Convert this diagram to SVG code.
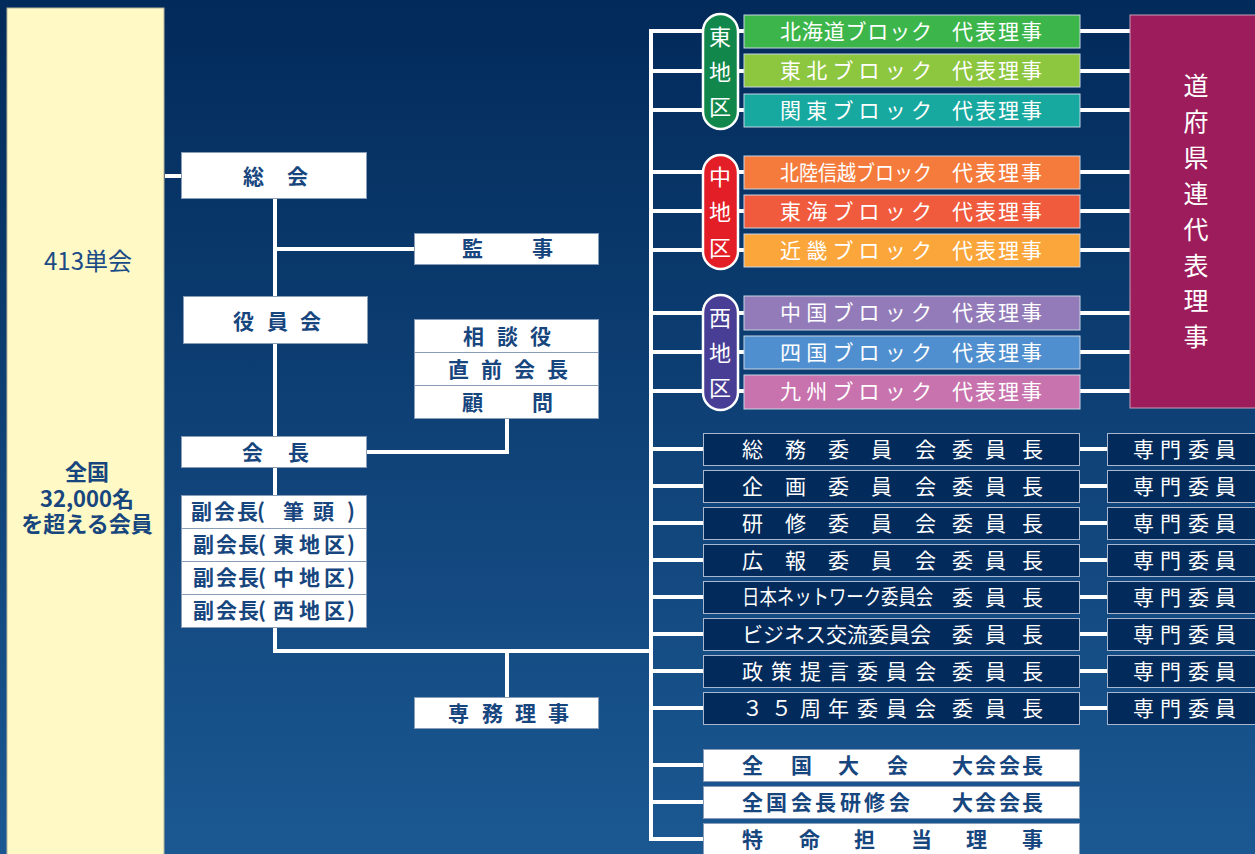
<svg xmlns="http://www.w3.org/2000/svg" width="1255" height="854" viewBox="0 0 1255 854">
<defs>
<linearGradient id="bg" x1="0" y1="0" x2="0" y2="1">
<stop offset="0" stop-color="#022a5a"/>
<stop offset="1" stop-color="#1b5892"/>
</linearGradient>
<style>
text{font-family:"Noto Sans CJK JP","Noto Sans",sans-serif;font-size:21px;dominant-baseline:central;transform:translateY(-2px)}
.wb{fill:#ffffff;stroke:#8a9db8;stroke-width:1}
.dt{fill:#17467e;font-weight:bold}
.lt{fill:#ffffff}
.pt{fill:#ffffff;font-size:22px}
.cm{fill:#022b5c;stroke:#a9b8cf;stroke-width:1}
.blk{stroke:#c8d4e4;stroke-width:1}
.pill{stroke:#ffffff;stroke-width:2.5}
.con{fill:none;stroke:#ffffff;stroke-width:4}
</style>
</defs>
<rect width="1255" height="854" fill="url(#bg)"/>

<g id="connectors" class="con">
<path d="M165 176H182"/>
<path d="M275 199V296"/>
<path d="M275 249H414"/>
<path d="M275 344V436"/>
<path d="M367 452H507V418"/>
<path d="M275 468V495"/>
<path d="M275 628V651H651"/>
<path d="M507 651V697"/>
<path d="M651 29V841"/>
<path d="M649 31H703M649 71H703M649 110H703M649 172H703M649 211H703M649 250H703M649 313H703M649 352H703M649 391H703"/>
<path d="M737 31H744M737 71H744M737 110H744M737 172H744M737 211H744M737 250H744M737 313H744M737 352H744M737 391H744"/>
<path d="M1080 31H1130M1080 71H1130M1080 110H1130M1080 172H1130M1080 211H1130M1080 250H1130M1080 313H1130M1080 352H1130M1080 391H1130"/>
<path d="M651 449H703M651 486H703M651 523H703M651 560H703M651 597H703M651 634H703M651 671H703M651 708H703M651 765H703M651 802H703M651 839H703"/>
<path d="M1080 449H1107M1080 486H1107M1080 523H1107M1080 560H1107M1080 597H1107M1080 634H1107M1080 671H1107M1080 708H1107"/>
</g>

<g id="members">
<rect x="7" y="8" width="157" height="860" fill="#fff9c6" stroke="#b7b59a" stroke-width="1"/>
<text x="88" y="261" text-anchor="middle" fill="#1b4b86" style="font-size:24px">413単会</text>
<text class="dt" text-anchor="middle" style="font-size:22px;font-weight:600"><tspan x="87" y="472">全国</tspan><tspan x="87" y="499">32,000名</tspan><tspan x="87" y="524">を超える会員</tspan></text>
</g>

<g id="soukai"><rect class="wb" x="181.5" y="152.5" width="185" height="46"/><text class="dt" x="243 287" y="177">総会</text></g>
<g id="kanji"><rect class="wb" x="414.5" y="233.5" width="184" height="31"/><text class="dt" x="462 532" y="249">監事</text></g>
<g id="yakuinkai"><rect class="wb" x="183.5" y="296.5" width="184" height="47"/><text class="dt" x="233 267 300" y="322">役員会</text></g>
<g id="advisors">
<rect class="wb" x="414.5" y="319.5" width="184" height="33"/><text class="dt" x="463 497 530" y="337">相談役</text>
<rect class="wb" x="414.5" y="352.5" width="184" height="33"/><text class="dt" x="448 481 514 547" y="370">直前会長</text>
<rect class="wb" x="414.5" y="385.5" width="184" height="33"/><text class="dt" x="462 532" y="403">顧問</text>
</g>
<g id="kaichou"><rect class="wb" x="181.5" y="436.5" width="185" height="31"/><text class="dt" x="242 288" y="453">会長</text></g>
<g id="fukukaichou">
<rect class="wb" x="181.5" y="495.5" width="185" height="33"/><text class="dt" x="191 214 237 257 283 313 347" y="512">副会長(筆頭)</text>
<rect class="wb" x="181.5" y="528.5" width="185" height="33"/><text class="dt" x="193 216 238 258 273 299 324 347" y="545">副会長(東地区)</text>
<rect class="wb" x="181.5" y="561.5" width="185" height="33"/><text class="dt" x="193 216 238 258 273 299 324 347" y="578">副会長(中地区)</text>
<rect class="wb" x="181.5" y="594.5" width="185" height="33"/><text class="dt" x="193 216 238 258 273 299 324 347" y="611">副会長(西地区)</text>
</g>
<g id="senmu"><rect class="wb" x="414.5" y="697.5" width="184" height="31"/><text class="dt" x="448 482 515 548" y="714">専務理事</text></g>

<g id="east">
<rect class="pill" x="703" y="14" width="35" height="115" rx="17.5" fill="#12874b"/>
<text class="pt" x="720" y="37" text-anchor="middle">東</text><text class="pt" x="720" y="72" text-anchor="middle">地</text><text class="pt" x="720" y="107" text-anchor="middle">区</text>
<rect class="blk" x="744" y="15" width="336" height="33" fill="#3cb64a"/><text class="lt" x="780" y="31.5" textLength="152" lengthAdjust="spacing">北海道ブロック</text><text class="lt" x="952" y="31.5" textLength="90" lengthAdjust="spacing">代表理事</text>
<rect class="blk" x="744" y="54" width="336" height="33" fill="#8dc63f"/><text class="lt" x="780" y="70.5" textLength="152" lengthAdjust="spacing">東北ブロック</text><text class="lt" x="952" y="70.5" textLength="90" lengthAdjust="spacing">代表理事</text>
<rect class="blk" x="744" y="94" width="336" height="33" fill="#17a99f"/><text class="lt" x="780" y="110.5" textLength="152" lengthAdjust="spacing">関東ブロック</text><text class="lt" x="952" y="110.5" textLength="90" lengthAdjust="spacing">代表理事</text>
</g>
<g id="central">
<rect class="pill" x="703" y="155" width="35" height="114" rx="17.5" fill="#e31e27"/>
<text class="pt" x="720" y="177" text-anchor="middle">中</text><text class="pt" x="720" y="212" text-anchor="middle">地</text><text class="pt" x="720" y="248" text-anchor="middle">区</text>
<rect class="blk" x="744" y="156" width="336" height="33" fill="#f47b3b"/><text class="lt" x="780" y="172.5" textLength="152" lengthAdjust="spacingAndGlyphs">北陸信越ブロック</text><text class="lt" x="952" y="172.5" textLength="90" lengthAdjust="spacing">代表理事</text>
<rect class="blk" x="744" y="195" width="336" height="33" fill="#f05a3d"/><text class="lt" x="780" y="211.5" textLength="152" lengthAdjust="spacing">東海ブロック</text><text class="lt" x="952" y="211.5" textLength="90" lengthAdjust="spacing">代表理事</text>
<rect class="blk" x="744" y="234" width="336" height="33" fill="#faa63a"/><text class="lt" x="780" y="250.5" textLength="152" lengthAdjust="spacing">近畿ブロック</text><text class="lt" x="952" y="250.5" textLength="90" lengthAdjust="spacing">代表理事</text>
</g>
<g id="west">
<rect class="pill" x="703" y="295" width="35" height="115" rx="17.5" fill="#483e95"/>
<text class="pt" x="720" y="318" text-anchor="middle">西</text><text class="pt" x="720" y="353" text-anchor="middle">地</text><text class="pt" x="720" y="388" text-anchor="middle">区</text>
<rect class="blk" x="744" y="296" width="336" height="34" fill="#927bb8"/><text class="lt" x="780" y="313" textLength="152" lengthAdjust="spacing">中国ブロック</text><text class="lt" x="952" y="313" textLength="90" lengthAdjust="spacing">代表理事</text>
<rect class="blk" x="744" y="336" width="336" height="33" fill="#4f8fcf"/><text class="lt" x="780" y="352.5" textLength="152" lengthAdjust="spacing">四国ブロック</text><text class="lt" x="952" y="352.5" textLength="90" lengthAdjust="spacing">代表理事</text>
<rect class="blk" x="744" y="375" width="336" height="34" fill="#c873ad"/><text class="lt" x="780" y="392" textLength="152" lengthAdjust="spacing">九州ブロック</text><text class="lt" x="952" y="392" textLength="90" lengthAdjust="spacing">代表理事</text>
</g>
<g id="prefecture">
<rect x="1130" y="15" width="130" height="393" fill="#9d1c5b" stroke="#c8a0b8" stroke-width="1"/>
<text class="lt" text-anchor="middle" style="font-size:25px"><tspan x="1196" y="86">道</tspan><tspan x="1196" y="122">府</tspan><tspan x="1196" y="158">県</tspan><tspan x="1196" y="194">連</tspan><tspan x="1196" y="230">代</tspan><tspan x="1196" y="266">表</tspan><tspan x="1196" y="301">理</tspan><tspan x="1196" y="337">事</tspan></text>
</g>

<g id="committees">
<rect class="cm" x="703.5" y="433.5" width="376" height="32"/><text class="lt" x="742 785 828 871 915 952 985 1022" y="449.5">総務委員会委員長</text>
<rect class="cm" x="703.5" y="470.5" width="376" height="32"/><text class="lt" x="742 785 828 871 915 952 985 1022" y="486.5">企画委員会委員長</text>
<rect class="cm" x="703.5" y="507.5" width="376" height="32"/><text class="lt" x="742 785 828 871 915 952 985 1022" y="523.5">研修委員会委員長</text>
<rect class="cm" x="703.5" y="544.5" width="376" height="32"/><text class="lt" x="742 785 828 871 915 952 985 1022" y="560.5">広報委員会委員長</text>
<rect class="cm" x="703.5" y="581.5" width="376" height="32"/><text class="lt" x="0" y="0" style="font-size:17.4px;transform:translate(742px,595.5px) scale(1,1.2)">日本ネットワーク委員会</text><text class="lt" x="952 985 1022" y="597.5">委員長</text>
<rect class="cm" x="703.5" y="618.5" width="376" height="32"/><text class="lt" x="742" y="634.5">ビジネス交流委員会</text><text class="lt" x="952 985 1022" y="634.5">委員長</text>
<rect class="cm" x="703.5" y="655.5" width="376" height="32"/><text class="lt" x="742 771 800 828 857 886 915 952 985 1022" y="671.5">政策提言委員会委員長</text>
<rect class="cm" x="703.5" y="692.5" width="376" height="32"/><text class="lt" x="742 771 800 828 857 886 915 952 985 1022" y="708.5">３５周年委員会委員長</text>
</g>
<g id="senmon-iin">
<rect class="cm" x="1107.5" y="433.5" width="160" height="32"/><text class="lt" x="1133 1160 1188 1215" y="449.5">専門委員</text>
<rect class="cm" x="1107.5" y="470.5" width="160" height="32"/><text class="lt" x="1133 1160 1188 1215" y="486.5">専門委員</text>
<rect class="cm" x="1107.5" y="507.5" width="160" height="32"/><text class="lt" x="1133 1160 1188 1215" y="523.5">専門委員</text>
<rect class="cm" x="1107.5" y="544.5" width="160" height="32"/><text class="lt" x="1133 1160 1188 1215" y="560.5">専門委員</text>
<rect class="cm" x="1107.5" y="581.5" width="160" height="32"/><text class="lt" x="1133 1160 1188 1215" y="597.5">専門委員</text>
<rect class="cm" x="1107.5" y="618.5" width="160" height="32"/><text class="lt" x="1133 1160 1188 1215" y="634.5">専門委員</text>
<rect class="cm" x="1107.5" y="655.5" width="160" height="32"/><text class="lt" x="1133 1160 1188 1215" y="671.5">専門委員</text>
<rect class="cm" x="1107.5" y="692.5" width="160" height="32"/><text class="lt" x="1133 1160 1188 1215" y="708.5">専門委員</text>
</g>
<g id="events">
<rect class="wb" x="703.5" y="749.5" width="376" height="32" stroke="#2a4f80"/><text class="dt" x="742 791 838 887 952 975 999 1022" y="765.5">全国大会大会会長</text>
<rect class="wb" x="703.5" y="786.5" width="376" height="32" stroke="#2a4f80"/><text class="dt" x="742 766 791 815 840 864 889 952 975 999 1022" y="802.5">全国会長研修会大会会長</text>
<rect class="wb" x="703.5" y="823.5" width="376" height="40" stroke="#2a4f80"/><text class="dt" x="742 799 854 911 966 1022" y="839.5">特命担当理事</text>
</g>
</svg>
